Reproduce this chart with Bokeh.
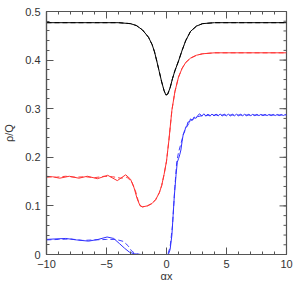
from bokeh.plotting import figure
from bokeh.models import FixedTicker, Range1d
from bokeh.embed import file_html
from bokeh.resources import INLINE

# ---------------- data ----------------
black_x = [-10, -6, -4, -3, -2.5, -2, -1.5, -1.2, -1.0, -0.8, -0.6, -0.4, -0.2, -0.05,
           0.1, 0.3, 0.5, 0.7, 1.0, 1.3, 1.6, 2.0, 2.5, 3.0, 4, 6, 10]
black_y = [0.477, 0.477, 0.477, 0.475, 0.471, 0.462, 0.447, 0.432, 0.417, 0.397, 0.376,
           0.355, 0.337, 0.328, 0.330, 0.343, 0.362, 0.378, 0.398, 0.420, 0.440, 0.459,
           0.470, 0.475, 0.477, 0.477, 0.477]

red_x = [-10, -9.5, -8.9, -8.1, -7.3, -6.6, -5.75, -4.9, -4.1, -3.4, -3.0, -2.7, -2.45,
         -2.2, -2.0, -1.6, -1.2, -0.9, -0.6, -0.4, -0.2, 0.0, 0.2, 0.45, 0.7, 1.0, 1.3,
         1.6, 2.0, 2.5, 3.0, 4.0, 10]
red_y = [0.159, 0.160, 0.157, 0.161, 0.157, 0.161, 0.156, 0.163, 0.152, 0.164, 0.155,
         0.137, 0.115, 0.100, 0.098, 0.100, 0.105, 0.113, 0.127, 0.142, 0.165, 0.192,
         0.235, 0.297, 0.335, 0.365, 0.383, 0.395, 0.404, 0.410, 0.413, 0.415, 0.415]

red_dash_x = [-10, -9.2, -8.4, -7.6, -6.8, -6.0, -5.2, -4.5, -3.8, -3.3, -2.9, -2.6,
              -2.35, -2.15, -2.0, -1.6, -1.2, -0.9, -0.6, -0.4, -0.2, 0.0, 0.2, 0.45,
              0.7, 1.0, 1.3, 1.6, 2.0, 2.5, 3.0, 4.0, 10]
red_dash_y = [0.161, 0.159, 0.161, 0.159, 0.160, 0.158, 0.161, 0.160, 0.157, 0.159,
              0.150, 0.132, 0.110, 0.100, 0.098, 0.100, 0.105, 0.113, 0.127, 0.142,
              0.165, 0.192, 0.235, 0.297, 0.335, 0.365, 0.383, 0.395, 0.404, 0.410,
              0.413, 0.415, 0.415]

blue_x = [-10, -9.3, -8.4, -7.5, -6.5, -5.7, -4.95, -4.4, -3.9, -3.5, -3.1, -2.7, -2.3,
          -2.0, 0.15, 0.3, 0.45, 0.55, 0.65, 0.8, 0.9, 1.0, 1.1, 1.2, 1.3, 1.4, 1.5,
          1.6, 1.7, 1.8, 1.9, 2.0, 2.15, 2.3, 2.45,
          2.60, 2.77, 2.94, 3.11, 3.28, 3.45, 3.62, 3.79, 3.96, 4.13, 4.30, 4.47, 4.64,
          4.81, 4.98, 5.15, 5.32, 5.49, 5.66, 5.83, 6.00, 6.17, 6.34, 6.51, 6.68, 6.85,
          7.02, 7.19, 7.36, 7.53, 7.70, 7.87, 8.04, 8.21, 8.38, 8.55, 8.72, 8.89, 9.06,
          9.23, 9.40, 9.57, 9.74, 9.91, 10.0]
blue_y = [0.031, 0.032, 0.033, 0.030, 0.0275, 0.031, 0.036, 0.033, 0.022, 0.013, 0.005,
          0.0015, 0.0003, 0.0, 0.0, 0.01, 0.04, 0.08, 0.12, 0.165, 0.19, 0.197, 0.205,
          0.215, 0.233, 0.248, 0.252, 0.262, 0.265, 0.273, 0.272, 0.279, 0.276, 0.283,
          0.280,
          0.286, 0.2895, 0.2845, 0.2895, 0.2845, 0.289, 0.2845, 0.289, 0.285, 0.289,
          0.285, 0.289, 0.285, 0.2888, 0.2852, 0.2888, 0.2852, 0.2886, 0.2854, 0.2886,
          0.2854, 0.2885, 0.2855, 0.2885, 0.2855, 0.2884, 0.2856, 0.2884, 0.2856,
          0.2883, 0.2857, 0.2883, 0.2857, 0.2882, 0.2858, 0.2882, 0.2858, 0.2881,
          0.2859, 0.2881, 0.2859, 0.288, 0.286, 0.288, 0.287]

blue_dash_x = [-10, -9, -8, -7, -6, -5, -4.2, -3.6, -3.2, -2.9, -2.6, -2.2, 0.1, 0.3,
               0.5, 0.7, 0.85, 1.0, 1.2, 1.5, 2.0, 2.5, 3, 4, 10]
blue_dash_y = [0.030, 0.031, 0.032, 0.029, 0.030, 0.031, 0.031, 0.027, 0.018, 0.007,
               0.002, 0.0, 0.0, 0.015, 0.06, 0.14, 0.19, 0.21, 0.228, 0.255, 0.275,
               0.283, 0.286, 0.287, 0.287]

x_ticks = [-10, -5, 0, 5, 10]
x_tick_labels = ["\u221210", "\u22125", "0", "5", "10"]
x_minor = list(range(-10, 11))
y_ticks = [0, 0.1, 0.2, 0.3, 0.4, 0.5]
y_tick_labels = ["0", "0.1", "0.2", "0.3", "0.4", "0.5"]
y_minor = [0, 0.02, 0.04, 0.06, 0.08, 0.1, 0.12, 0.14, 0.16, 0.18, 0.2, 0.22, 0.24,
           0.26, 0.28, 0.3, 0.32, 0.34, 0.36, 0.38, 0.4, 0.42, 0.44, 0.46, 0.48, 0.5]

# ---------------- figure ----------------
AX = "#555555"
TXT = "#333333"
FONT = "Liberation Sans"
MAJ, MIN = 7, 3

x_range = Range1d(-10, 10)
y_range = Range1d(0, 0.5)
p = figure(width=296, height=284, x_range=x_range, y_range=y_range,
           output_backend="svg", toolbar_location=None,
           min_border_left=43, min_border_right=10, min_border_top=11, min_border_bottom=29)
p.xgrid.visible = False
p.ygrid.visible = False
p.outline_line_color = AX
p.outline_line_width = 1.2
p.background_fill_color = "white"
p.border_fill_color = "white"

for ax in (p.xaxis[0], p.yaxis[0]):
    ax.axis_line_color = AX
    ax.axis_line_width = 1.2
    ax.major_tick_line_color = AX
    ax.minor_tick_line_color = AX
    ax.major_tick_in = MAJ
    ax.major_tick_out = 0
    ax.minor_tick_in = MIN
    ax.minor_tick_out = 0
    ax.major_label_text_font = FONT
    ax.major_label_text_color = TXT
    ax.major_label_text_font_size = "11px"
    ax.axis_label_text_font = FONT
    ax.axis_label_text_color = TXT
    ax.axis_label_text_font_style = "normal"
    ax.axis_label_text_font_size = "11px"

p.xaxis.ticker = FixedTicker(ticks=x_ticks, minor_ticks=x_minor)
p.yaxis.ticker = FixedTicker(ticks=y_ticks, minor_ticks=y_minor)
p.xaxis.major_label_overrides = {float(t): s for t, s in zip(x_ticks, x_tick_labels)}
p.yaxis.major_label_overrides = {float(t): s for t, s in zip(y_ticks, y_tick_labels)}
p.xaxis.axis_label = "\u03b1x"
p.yaxis.axis_label = "\u03c1/Q"
p.xaxis.major_label_standoff = 5
p.xaxis.axis_label_standoff = -1
p.yaxis.major_label_standoff = 6
p.yaxis.axis_label_standoff = 7

# inward ticks on the top and right edges of the frame
top_y = y_range.end
right_x = x_range.end
p.ray(x=x_minor, y=[top_y] * len(x_minor), length=MIN, length_units="screen",
      angle=-90, angle_units="deg", line_color=AX, line_width=1)
p.ray(x=x_ticks, y=[top_y] * len(x_ticks), length=MAJ, length_units="screen",
      angle=-90, angle_units="deg", line_color=AX, line_width=1)
p.ray(x=[right_x] * len(y_minor), y=y_minor, length=MIN, length_units="screen",
      angle=180, angle_units="deg", line_color=AX, line_width=1)
p.ray(x=[right_x] * len(y_ticks), y=y_ticks, length=MAJ, length_units="screen",
      angle=180, angle_units="deg", line_color=AX, line_width=1)

# ---------------- lines ----------------
p.line(black_x, black_y, line_color="black", line_width=1, line_dash="5 3")
p.line(black_x, black_y, line_color="black", line_width=1)
p.line(red_dash_x, red_dash_y, line_color="#ff4040", line_width=1, line_dash="5 3")
p.line(red_x, red_y, line_color="#ff3030", line_width=1)
p.line(blue_dash_x, blue_dash_y, line_color="#4040ff", line_width=1, line_dash="5 3")
p.line(blue_x, blue_y, line_color="#3030ff", line_width=1)

open("out.html", "w").write(file_html(p, INLINE))
